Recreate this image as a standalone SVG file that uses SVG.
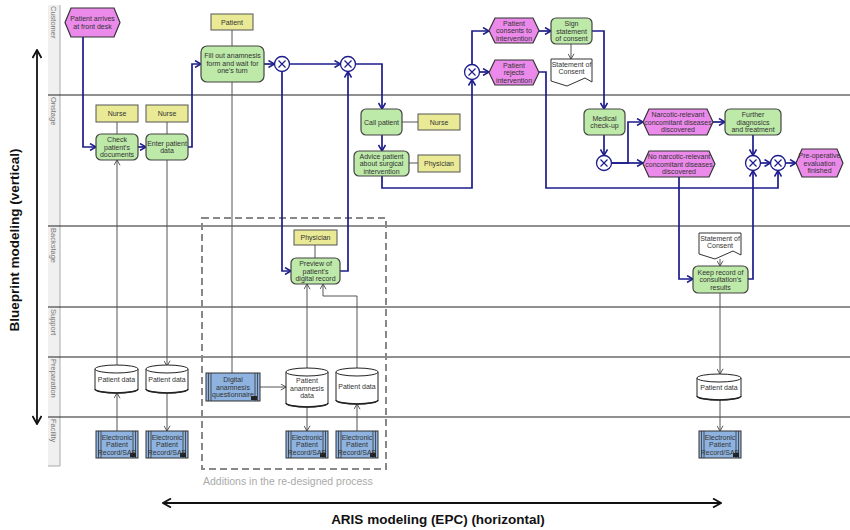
<svg xmlns="http://www.w3.org/2000/svg" width="850" height="530" viewBox="0 0 850 530">
<style>
  .t{font-family:"Liberation Sans",Arial,sans-serif;font-size:7px;fill:#333;text-anchor:middle}
  .lane{font-family:"Liberation Sans",Arial,sans-serif;font-size:7.5px;fill:#777}
  .title{font-family:"Liberation Sans",Arial,sans-serif;font-size:13.5px;font-weight:bold;fill:#111;text-anchor:middle}
  .note{font-family:"Liberation Sans",Arial,sans-serif;font-size:10.5px;fill:#aaa}
  .fn{fill:#bde9a9;stroke:#444;stroke-width:1.2}
  .ev{fill:#ec8aec;stroke:#333;stroke-width:1.2}
  .role{fill:#eaea96;stroke:#555;stroke-width:1}
  .sys{fill:#8fb3e0;stroke:#333;stroke-width:1}
  .bar{stroke:#333;stroke-width:0.8}
  .store{fill:#fff;stroke:#222;stroke-width:1}
  .doc{fill:#fff;stroke:#333;stroke-width:1}
  .xor{fill:#fff;stroke:#1c1c8c;stroke-width:1.3}
  .xl{stroke:#1c1c8c;stroke-width:1.2}
  .flow{fill:none;stroke:#1c1c8c;stroke-width:1.7;marker-end:url(#fa)}
  .info{fill:none;stroke:#555;stroke-width:1}
  .infoa{fill:none;stroke:#555;stroke-width:1;marker-end:url(#ia)}
  .divider{stroke:#222;stroke-width:1.2}
</style>
<defs>
  <marker id="fa" viewBox="0 0 8 8" refX="7" refY="4" markerWidth="8" markerHeight="8" markerUnits="userSpaceOnUse" orient="auto">
    <path d="M1,0.5 L7,4 L1,7.5" fill="none" stroke="#1c1c8c" stroke-width="1.5"/>
  </marker>
  <marker id="ia" viewBox="0 0 8 8" refX="7" refY="4" markerWidth="7" markerHeight="7" markerUnits="userSpaceOnUse" orient="auto">
    <path d="M1,0.5 L7,4 L1,7.5" fill="none" stroke="#444" stroke-width="1"/>
  </marker>
  <marker id="ba" viewBox="0 0 10 10" refX="9" refY="5" markerWidth="10" markerHeight="10" markerUnits="userSpaceOnUse" orient="auto">
    <path d="M1,0.5 L9,5 L1,9.5" fill="none" stroke="#111" stroke-width="1.8"/>
  </marker>
</defs>

<!-- swimlane frame -->
<g id="lanes">
  <rect x="48" y="5" width="12" height="461" fill="#f0f0f0"/>
  <line x1="60" y1="5" x2="60" y2="466" stroke="#aaa" stroke-width="1"/>
  <line x1="48" y1="466" x2="60" y2="466" stroke="#aaa" stroke-width="1"/>
  <line class="divider" x1="48" y1="95" x2="850" y2="95"/>
  <line class="divider" x1="48" y1="226" x2="850" y2="226"/>
  <line class="divider" x1="48" y1="307" x2="850" y2="307"/>
  <line class="divider" x1="48" y1="357" x2="850" y2="357"/>
  <line class="divider" x1="48" y1="417" x2="850" y2="417"/>
  <text class="lane" transform="translate(51,6) rotate(90)">Customer</text>
  <text class="lane" transform="translate(51,97) rotate(90)">Onstage</text>
  <text class="lane" transform="translate(51,228) rotate(90)">Backstage</text>
  <text class="lane" transform="translate(51,309) rotate(90)">Support</text>
  <text class="lane" transform="translate(51,359) rotate(90)">Preparation</text>
  <text class="lane" transform="translate(51,419) rotate(90)">Facility</text>
</g>

<!-- axis annotations -->
<g id="axes">
  <line x1="37" y1="130" x2="37" y2="50" stroke="#111" stroke-width="1.8" marker-end="url(#ba)"/>
  <line x1="37" y1="130" x2="37" y2="424" stroke="#111" stroke-width="1.8" marker-end="url(#ba)"/>
  <text class="title" transform="translate(19,240) rotate(-90)">Blueprint modeling (vertical)</text>
  <line x1="440" y1="503" x2="163" y2="503" stroke="#111" stroke-width="1.8" marker-end="url(#ba)"/>
  <line x1="440" y1="503" x2="721" y2="503" stroke="#111" stroke-width="1.8" marker-end="url(#ba)"/>
  <text class="title" x="438" y="524">ARIS modeling (EPC) (horizontal)</text>
</g>

<!-- re-designed process area -->
<g id="additions">
  <rect x="202" y="218" width="184" height="251" fill="none" stroke="#888" stroke-width="2" stroke-dasharray="7,4"/>
  <text class="note" x="203" y="485">Additions in the re-designed process</text>
</g>

<!-- connectors -->
<g id="connectors">
  <!-- control flow -->
  <path class="flow" d="M83,37 V147 H96"/>
  <path class="flow" d="M138,147 H146"/>
  <path class="flow" d="M188,147 H192 V64 H201"/>
  <path class="flow" d="M264,64 H274.5"/>
  <path class="flow" d="M289.5,64 H340.5"/>
  <path class="flow" d="M282,71.5 V271 H291"/>
  <path class="flow" d="M340,271 H348 V71.5"/>
  <path class="flow" d="M355.5,64 H382 V109"/>
  <path class="flow" d="M382,135 V151"/>
  <path class="flow" d="M382,176 V188 H472 V79.5"/>
  <path class="flow" d="M472,64.5 V31 H489"/>
  <path class="flow" d="M479.5,72 H489"/>
  <path class="flow" d="M539,31 H551"/>
  <path class="flow" d="M592,31 H604 V109"/>
  <path class="flow" d="M539,72 H546 V188 H778 V170.5"/>
  <path class="flow" d="M604,135 V155.5"/>
  <path class="flow" d="M611.5,163 H628 V122 H643"/>
  <path class="flow" d="M611.5,163 H643"/>
  <path class="flow" d="M713,122 H725"/>
  <path class="flow" d="M753,135 V155.5"/>
  <path class="flow" d="M760.5,163 H770.5"/>
  <path class="flow" d="M785.5,163 H796"/>
  <path class="flow" d="M679,177 V279 H693"/>
  <path class="flow" d="M748,279 H753 V170.5"/>
  <!-- roles, data and systems -->
  <path class="info" d="M117,122 V134"/>
  <path class="info" d="M167,122 V134"/>
  <path class="info" d="M232,30 V46"/>
  <path class="info" d="M232,82 V373"/>
  <path class="infoa" d="M117,365 V160"/>
  <path class="infoa" d="M167,160 V366"/>
  <path class="infoa" d="M117,431 V393"/>
  <path class="infoa" d="M167,393 V431"/>
  <path class="infoa" d="M260,387 H286"/>
  <path class="infoa" d="M307,368 V284"/>
  <path class="infoa" d="M357,368 V296 H323 V284"/>
  <path class="infoa" d="M307,407 V431"/>
  <path class="infoa" d="M357,431 V404"/>
  <path class="info" d="M315,245 V258"/>
  <path class="info" d="M402,122 H418"/>
  <path class="info" d="M409,163 H418"/>
  <path class="infoa" d="M571,44 V59"/>
  <path class="infoa" d="M720,259 V266"/>
  <path class="infoa" d="M720,293 V374"/>
  <path class="infoa" d="M720,400 V431"/>
</g>

<!-- events -->
<g id="ev-arrives">
  <path class="ev" d="M71,8 H114 L120,22.5 L114,37 H71 L65,22.5 Z"/>
  <text class="t"><tspan x="92.5" y="21">Patient arrives</tspan><tspan x="92.5" y="28.5">at front desk</tspan></text>
</g>
<g id="ev-consents">
  <path class="ev" d="M495,18 H533 L539,30.5 L533,43 H495 L489,30.5 Z"/>
  <text class="t"><tspan x="514" y="25.5">Patient</tspan><tspan x="514" y="33">consents to</tspan><tspan x="514" y="40.5">intervention</tspan></text>
</g>
<g id="ev-rejects">
  <path class="ev" d="M495,60 H533 L539,72.5 L533,85 H495 L489,72.5 Z"/>
  <text class="t"><tspan x="514" y="67.5">Patient</tspan><tspan x="514" y="75">rejects</tspan><tspan x="514" y="82.5">intervention</tspan></text>
</g>
<g id="ev-narcotic">
  <path class="ev" d="M649,109 H707 L713,122 L707,135 H649 L643,122 Z"/>
  <text class="t"><tspan x="678" y="117">Narcotic-relevant</tspan><tspan x="678" y="124.5">concomitant diseases</tspan><tspan x="678" y="132">discovered</tspan></text>
</g>
<g id="ev-no-narcotic">
  <path class="ev" d="M649,151 H709 L715,164 L709,177 H649 L643,164 Z"/>
  <text class="t"><tspan x="679" y="159">No narcotic-relevant</tspan><tspan x="679" y="166.5">concomitant diseases</tspan><tspan x="679" y="174">discovered</tspan></text>
</g>
<g id="ev-preop">
  <path class="ev" d="M802,149 H837 L843,163 L837,177 H802 L796,163 Z"/>
  <text class="t"><tspan x="819.5" y="158">Pre-operative</tspan><tspan x="819.5" y="165.5">evaluation</tspan><tspan x="819.5" y="173">finished</tspan></text>
</g>

<!-- functions -->
<g id="fn-check">
  <rect class="fn" x="96" y="134" width="42" height="26" rx="5"/>
  <text class="t"><tspan x="117" y="142">Check</tspan><tspan x="117" y="149.5">patient's</tspan><tspan x="117" y="157">documents</tspan></text>
</g>
<g id="fn-enter">
  <rect class="fn" x="146" y="134" width="42" height="26" rx="5"/>
  <text class="t"><tspan x="167" y="145.5">Enter patient</tspan><tspan x="167" y="153">data</tspan></text>
</g>
<g id="fn-fill">
  <rect class="fn" x="201" y="46" width="63" height="36" rx="6"/>
  <text class="t"><tspan x="232.5" y="58">Fill out anamnesis</tspan><tspan x="232.5" y="65.5">form and wait for</tspan><tspan x="232.5" y="73">one's turn</tspan></text>
</g>
<g id="fn-call">
  <rect class="fn" x="361" y="109" width="41" height="26" rx="5"/>
  <text class="t" x="381.5" y="124.5">Call patient</text>
</g>
<g id="fn-advice">
  <rect class="fn" x="354" y="151" width="55" height="25" rx="5"/>
  <text class="t"><tspan x="381.5" y="158.5">Advice patient</tspan><tspan x="381.5" y="166">about surgical</tspan><tspan x="381.5" y="173.5">intervention</tspan></text>
</g>
<g id="fn-sign">
  <rect class="fn" x="551" y="18" width="41" height="26" rx="5"/>
  <text class="t"><tspan x="571.5" y="26">Sign</tspan><tspan x="571.5" y="33.5">statement</tspan><tspan x="571.5" y="41">of consent</tspan></text>
</g>
<g id="fn-medical">
  <rect class="fn" x="584" y="109" width="41" height="26" rx="5"/>
  <text class="t"><tspan x="604.5" y="120.5">Medical</tspan><tspan x="604.5" y="128">check-up</tspan></text>
</g>
<g id="fn-further">
  <rect class="fn" x="725" y="109" width="56" height="26" rx="5"/>
  <text class="t"><tspan x="753" y="117">Further</tspan><tspan x="753" y="124.5">diagnosics</tspan><tspan x="753" y="132">and treatment</tspan></text>
</g>
<g id="fn-preview">
  <rect class="fn" x="291" y="258" width="49" height="26" rx="5"/>
  <text class="t"><tspan x="315.5" y="266">Preview of</tspan><tspan x="315.5" y="273.5">patient's</tspan><tspan x="315.5" y="281">digital record</tspan></text>
</g>
<g id="fn-keep">
  <rect class="fn" x="693" y="266" width="55" height="27" rx="5"/>
  <text class="t"><tspan x="720.5" y="274.5">Keep record of</tspan><tspan x="720.5" y="282">consultation's</tspan><tspan x="720.5" y="289.5">results</tspan></text>
</g>

<!-- XOR rules -->
<g id="xor-1"><circle class="xor" cx="282" cy="64" r="7.5"/><path class="xl" d="M278.5,60.5 L285.5,67.5 M285.5,60.5 L278.5,67.5"/></g>
<g id="xor-2"><circle class="xor" cx="348" cy="64" r="7.5"/><path class="xl" d="M344.5,60.5 L351.5,67.5 M351.5,60.5 L344.5,67.5"/></g>
<g id="xor-3"><circle class="xor" cx="472" cy="72" r="7.5"/><path class="xl" d="M468.5,68.5 L475.5,75.5 M475.5,68.5 L468.5,75.5"/></g>
<g id="xor-4"><circle class="xor" cx="604" cy="163" r="7.5"/><path class="xl" d="M600.5,159.5 L607.5,166.5 M607.5,159.5 L600.5,166.5"/></g>
<g id="xor-5"><circle class="xor" cx="753" cy="163" r="7.5"/><path class="xl" d="M749.5,159.5 L756.5,166.5 M756.5,159.5 L749.5,166.5"/></g>
<g id="xor-6"><circle class="xor" cx="778" cy="163" r="7.5"/><path class="xl" d="M774.5,159.5 L781.5,166.5 M781.5,159.5 L774.5,166.5"/></g>

<!-- roles -->
<g id="role-nurse-1"><rect class="role" x="96" y="105" width="42" height="17"/><text class="t" x="117" y="116">Nurse</text></g>
<g id="role-nurse-2"><rect class="role" x="146" y="105" width="42" height="17"/><text class="t" x="167" y="116">Nurse</text></g>
<g id="role-patient"><rect class="role" x="211" y="14" width="42" height="16"/><text class="t" x="232" y="24.5">Patient</text></g>
<g id="role-nurse-3"><rect class="role" x="418" y="114" width="42" height="16"/><text class="t" x="439" y="124.5">Nurse</text></g>
<g id="role-physician-1"><rect class="role" x="418" y="155" width="42" height="17"/><text class="t" x="439" y="166">Physician</text></g>
<g id="role-physician-2"><rect class="role" x="294" y="230" width="43" height="15"/><text class="t" x="315.5" y="240">Physician</text></g>

<!-- documents -->
<g id="doc-consent-1">
  <path class="doc" d="M551,59 H592 V82 L585,78 L567,86 L551,81 Z"/>
  <text class="t"><tspan x="571.5" y="66.5">Statement of</tspan><tspan x="571.5" y="74">Consent</tspan></text>
</g>
<g id="doc-consent-2">
  <path class="doc" d="M699,233 H741 V255 L733,251 L715,259 L699,254 Z"/>
  <text class="t"><tspan x="720" y="240.5">Statement of</tspan><tspan x="720" y="248">Consent</tspan></text>
</g>

<!-- data stores -->
<g id="store-pd-1">
  <path class="store" d="M95,369 V389 A21.5,4 0 0 0 138,389 V369"/>
  <ellipse class="store" cx="116.5" cy="369" rx="21.5" ry="4"/>
  <path d="M95,389 A21.5,4 0 0 0 138,389" fill="none" stroke="#222" stroke-width="1.6"/>
  <text class="t" x="116.5" y="382">Patient data</text>
</g>
<g id="store-pd-2">
  <path class="store" d="M146,369 V389 A21,4 0 0 0 188,389 V369"/>
  <ellipse class="store" cx="167" cy="369" rx="21" ry="4"/>
  <path d="M146,389 A21,4 0 0 0 188,389" fill="none" stroke="#222" stroke-width="1.6"/>
  <text class="t" x="167" y="382">Patient data</text>
</g>
<g id="store-anamnesis">
  <path class="store" d="M286,372 V403 A21,4 0 0 0 328,403 V372"/>
  <ellipse class="store" cx="307" cy="372" rx="21" ry="4"/>
  <path d="M286,403 A21,4 0 0 0 328,403" fill="none" stroke="#222" stroke-width="1.6"/>
  <text class="t"><tspan x="307" y="383">Patient</tspan><tspan x="307" y="390.5">anamnesis</tspan><tspan x="307" y="398">data</tspan></text>
</g>
<g id="store-pd-3">
  <path class="store" d="M336,372 V400 A21,4 0 0 0 378,400 V372"/>
  <ellipse class="store" cx="357" cy="372" rx="21" ry="4"/>
  <path d="M336,400 A21,4 0 0 0 378,400" fill="none" stroke="#222" stroke-width="1.6"/>
  <text class="t" x="357" y="389">Patient data</text>
</g>
<g id="store-pd-4">
  <path class="store" d="M697,378 V396 A22,4 0 0 0 741,396 V378"/>
  <ellipse class="store" cx="719" cy="378" rx="22" ry="4"/>
  <path d="M697,396 A22,4 0 0 0 741,396" fill="none" stroke="#222" stroke-width="1.6"/>
  <text class="t" x="719" y="390">Patient data</text>
</g>

<!-- application systems -->
<g id="sys-questionnaire">
  <rect class="sys" x="206" y="373" width="54" height="28"/>
  <path class="bar" d="M208.5,373 V401 M211,373 V401 M257.5,373 V401 M255,373 V401"/>
  <rect x="251" y="396" width="6" height="4" fill="#222"/>
  <text class="t"><tspan x="233" y="382">Digital</tspan><tspan x="233" y="389.5">anamnesis</tspan><tspan x="233" y="397">questionnaire</tspan></text>
</g>
<g id="sys-epr-1">
  <rect class="sys" x="96" y="431" width="42" height="27"/>
  <path class="bar" d="M98.5,431 V458 M101,431 V458 M135.5,431 V458 M133,431 V458"/>
  <rect x="130" y="453" width="6" height="4" fill="#222"/>
  <text class="t"><tspan x="117" y="439.5">Electronic</tspan><tspan x="117" y="447">Patient</tspan><tspan x="117" y="454.5">Record/SAP</tspan></text>
</g>
<g id="sys-epr-2">
  <rect class="sys" x="146" y="431" width="42" height="27"/>
  <path class="bar" d="M148.5,431 V458 M151,431 V458 M185.5,431 V458 M183,431 V458"/>
  <rect x="180" y="453" width="6" height="4" fill="#222"/>
  <text class="t"><tspan x="167" y="439.5">Electronic</tspan><tspan x="167" y="447">Patient</tspan><tspan x="167" y="454.5">Record/SAP</tspan></text>
</g>
<g id="sys-epr-3">
  <rect class="sys" x="286" y="431" width="42" height="27"/>
  <path class="bar" d="M288.5,431 V458 M291,431 V458 M325.5,431 V458 M323,431 V458"/>
  <rect x="320" y="453" width="6" height="4" fill="#222"/>
  <text class="t"><tspan x="307" y="439.5">Electronic</tspan><tspan x="307" y="447">Patient</tspan><tspan x="307" y="454.5">Record/SAP</tspan></text>
</g>
<g id="sys-epr-4">
  <rect class="sys" x="336" y="431" width="42" height="27"/>
  <path class="bar" d="M338.5,431 V458 M341,431 V458 M375.5,431 V458 M373,431 V458"/>
  <rect x="370" y="453" width="6" height="4" fill="#222"/>
  <text class="t"><tspan x="357" y="439.5">Electronic</tspan><tspan x="357" y="447">Patient</tspan><tspan x="357" y="454.5">Record/SAP</tspan></text>
</g>
<g id="sys-epr-5">
  <rect class="sys" x="699" y="431" width="42" height="27"/>
  <path class="bar" d="M701.5,431 V458 M704,431 V458 M738.5,431 V458 M736,431 V458"/>
  <rect x="733" y="453" width="6" height="4" fill="#222"/>
  <text class="t"><tspan x="720" y="439.5">Electronic</tspan><tspan x="720" y="447">Patient</tspan><tspan x="720" y="454.5">Record/SAP</tspan></text>
</g>
</svg>
